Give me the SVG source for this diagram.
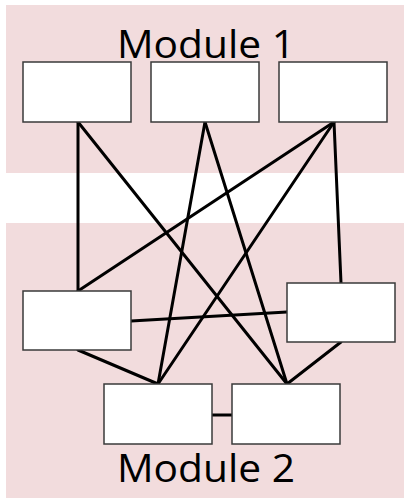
<svg xmlns="http://www.w3.org/2000/svg" width="404" height="500" viewBox="0 0 404 500">
<style>
.bg{fill:#f2dcdd}
.box{fill:#ffffff;stroke:#3a3a3a;stroke-width:1.5}
.edge{stroke:#000;stroke-width:3;fill:none;stroke-linecap:round}
.lbl{font-family:"Open Sans","Liberation Sans",sans-serif;font-size:39px;fill:#000}
</style>
<rect x="0" y="0" width="404" height="500" fill="#ffffff"/>
<g id="module1">
<rect class="bg" x="6" y="5" width="398" height="168"/>
<text class="lbl" x="117" y="58" textLength="178" lengthAdjust="spacingAndGlyphs">Module 1</text>
</g>
<g id="module2">
<rect class="bg" x="6" y="223" width="398" height="275"/>
<text class="lbl" x="117" y="482" textLength="178" lengthAdjust="spacingAndGlyphs">Module 2</text>
</g>
<g id="connectors">
<line class="edge" x1="78" y1="122" x2="78" y2="291"/>
<line class="edge" x1="78" y1="122" x2="287" y2="384"/>
<line class="edge" x1="205" y1="122" x2="158" y2="384"/>
<line class="edge" x1="205" y1="122" x2="287" y2="384"/>
<line class="edge" x1="334" y1="122" x2="78" y2="291"/>
<line class="edge" x1="334" y1="122" x2="158" y2="384"/>
<line class="edge" x1="334" y1="122" x2="341" y2="283"/>
<line class="edge" x1="131" y1="321" x2="287" y2="312"/>
<line class="edge" x1="78" y1="350" x2="158" y2="384"/>
<line class="edge" x1="341" y1="342" x2="287" y2="384"/>
<line class="edge" x1="212" y1="415" x2="232" y2="415"/>
</g>
<g id="m1a"><rect class="box" x="23" y="62" width="108" height="60"/></g>
<g id="m1b"><rect class="box" x="151" y="62" width="108" height="60"/></g>
<g id="m1c"><rect class="box" x="279" y="62" width="108" height="60"/></g>
<g id="m2a"><rect class="box" x="23" y="291" width="108" height="59"/></g>
<g id="m2b"><rect class="box" x="287" y="283" width="108" height="59"/></g>
<g id="m2c"><rect class="box" x="104" y="384" width="108" height="60"/></g>
<g id="m2d"><rect class="box" x="232" y="384" width="108" height="60"/></g>
</svg>
